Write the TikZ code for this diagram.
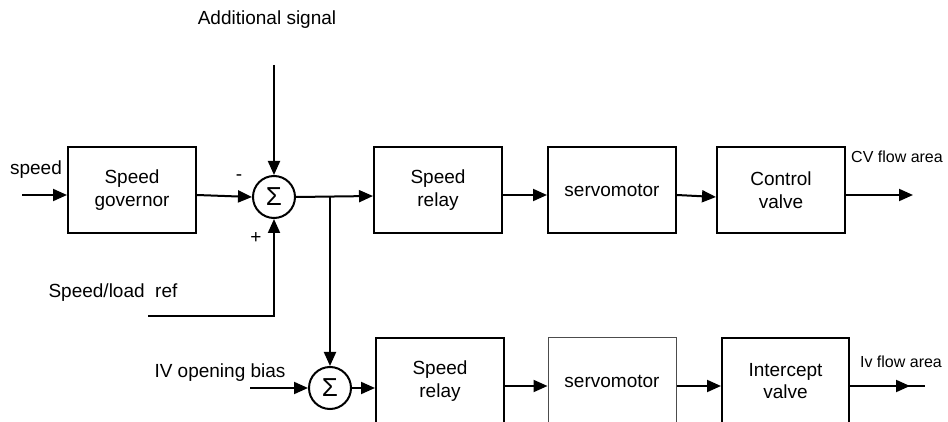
\documentclass[tikz,border=0pt]{standalone}
\usepackage{fontspec}
\setmainfont{Liberation Sans}
\usetikzlibrary{arrows.meta}
\tikzset{
  blk/.style={draw,line width=1pt,rectangle,minimum width=64pt,minimum height=43pt,align=center,inner sep=1pt},
  sumnode/.style={draw,line width=1pt,circle,minimum size=21pt,inner sep=0pt,font=\fontsize{13}{13}\selectfont},
  small/.style={font=\fontsize{8}{9.6}\selectfont},
  >={Triangle[length=7pt,width=6pt]}
}
\begin{document}
\begin{tikzpicture}[x=0.5pt,y=-0.5pt,line width=1pt,font=\fontsize{9.5}{11.4}\selectfont]
\useasboundingbox (0,0) rectangle (948,422);
\clip (0,0) rectangle (948,422);

% upper path
\node[blk] (gov) at (132,190) {Speed\\governor};
\node[sumnode] (sum1) at (274,197) {Σ};
\node[blk] (relay1) at (438,190) {Speed\\relay};
\node[blk] (servo1) at (612,190) {servomotor};
\node[blk] (valve1) at (781,190) {Control\\valve};

% lower path
\node[sumnode] (sum2) at (330,388) {Σ};
\node[blk] (relay2) at (440,381) {Speed\\relay};
\node[blk,draw=black!70,line width=0.5pt] (servo2) at (612,381) {servomotor};
\node[blk,minimum width=63.5pt] (valve2) at (785.5,381) {Intercept\\valve};

% inputs / outputs
\coordinate (spd) at (22,195);
\coordinate (addl) at (274,65);
\coordinate (ref) at (148,316);
\coordinate (bias) at (250,388);
\coordinate (br) at (330,196);
\coordinate (out1) at (913,195);
\coordinate (out2) at (910,386);
\coordinate (out2e) at (925,386);

\node at (267,20) {Additional signal};
\node at (36,170) {speed};
\node at (113,293) {Speed/load\ \ ref};
\node at (220,373) {IV opening bias};
\node[small] at (897,157) {CV flow area};
\node[small] at (901,362) {Iv flow area};
\node at (239,178) {-};
\node at (256,238) {+};

\draw[->] (spd) -- (spd -| gov.west);
\draw[->] (gov.east |- spd) -- (sum1.west);
\draw[->] (addl) -- (sum1.north);
\draw[->] (ref) -- (sum1 |- ref) -- (sum1.south);
\draw[->] (sum1.east) -- (relay1.west |- br);
\draw[->] (br) -- (sum2.north);
\draw[->] (relay1.east |- spd) -- (servo1.west |- spd);
\draw[->] (servo1.east |- spd) -- (valve1.west |- sum1);
\draw[->] (valve1.east |- spd) -- (out1);

\draw[->] (bias) -- (sum2.west);
\draw[->] (sum2.east) -- (relay2.west |- sum2);
\draw[->] (relay2.east |- out2) -- (servo2.west |- out2);
\draw[->] (servo2.east |- out2) -- (valve2.west |- out2);
\draw (valve2.east |- out2) -- (out2e);
\draw[->] (valve2.east |- out2) -- (out2);
\end{tikzpicture}
\end{document}
